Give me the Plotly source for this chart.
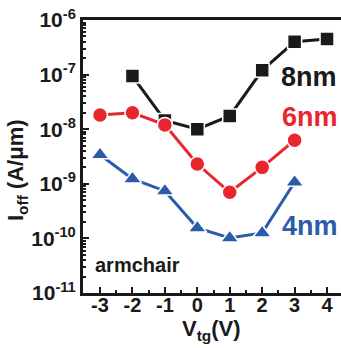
import plotly.graph_objects as go

vtg = [-3, -2, -1, 0, 1, 2, 3, 4]
x8 = [-2, -1, 0, 1, 2, 3, 4]
i8 = [9.4e-8, 1.45e-8, 1.0e-8, 1.75e-8, 1.2e-7, 4.0e-7, 4.5e-7]
x6 = [-3, -2, -1, 0, 1, 2, 3]
i6 = [1.82e-8, 2.0e-8, 1.2e-8, 2.3e-9, 7.0e-10, 2.0e-9, 6.3e-9]
x4 = [-3, -2, -1, 0, 1, 2, 3]
i4 = [3.4e-9, 1.23e-9, 7.4e-10, 1.55e-10, 1.02e-10, 1.26e-10, 1.07e-9]
ytickvals = [1e-11, 1e-10, 1e-9, 1e-8, 1e-7, 1e-6]
yticktext = ["10<sup>-11</sup>", "10<sup>-10</sup>", "10<sup>-9</sup>",
             "10<sup>-8</sup>", "10<sup>-7</sup>", "10<sup>-6</sup>"]

BLACK = "#1a1a1a"
RED = "#e8262d"
BLUE = "#2a5caa"
FONT = "Liberation Sans"

W, H = 341, 348
L, R, T, B = 83, 341, 20, 293

def px(x):
    return (x - L) / (R - L)

def py(y):
    return (B - y) / (B - T)

fig = go.Figure()
fig.add_trace(go.Scatter(x=x8, y=i8, mode="lines+markers",
                         line=dict(color=BLACK, width=3),
                         marker=dict(symbol="square", size=14, color=BLACK,
                                     line=dict(color="white", width=1.5))))
fig.add_trace(go.Scatter(x=x6, y=i6, mode="lines+markers",
                         line=dict(color=RED, width=3),
                         marker=dict(symbol="circle", size=15, color=RED,
                                     line=dict(color="white", width=1.5))))
fig.add_trace(go.Scatter(x=x4, y=i4, mode="lines+markers",
                         line=dict(color=BLUE, width=3),
                         marker=dict(symbol="triangle-up", size=16, color=BLUE,
                                     line=dict(color="white", width=1.5))))

ann = []
ann.append(dict(text="<b>8nm</b>", x=px(279), y=py(77), xanchor="left", font=dict(size=27, color=BLACK)))
ann.append(dict(text="<b>6nm</b>", x=px(280), y=py(117), xanchor="left", font=dict(size=27, color=RED)))
ann.append(dict(text="<b>4nm</b>", x=px(280), y=py(226), xanchor="left", font=dict(size=27, color=BLUE)))
ann.append(dict(text="<b>armchair</b>", x=px(93), y=py(265), xanchor="left", font=dict(size=20, color=BLACK)))
ann.append(dict(text="<b>I<sub>off</sub> (A/μm)</b>", x=px(17), y=py(170), xanchor="center",
                textangle=-90, font=dict(size=22, color=BLACK)))
ann.append(dict(text="<b>V<sub>tg</sub>(V)</b>", x=px(211), y=py(330), xanchor="center",
                font=dict(size=22, color=BLACK)))
for a in ann:
    a.update(xref="paper", yref="paper", showarrow=False, yanchor="middle")
    a["font"]["family"] = FONT

fig.update_layout(
    width=W, height=H,
    margin=dict(l=L, r=W - R, t=T, b=H - B, pad=0, autoexpand=False),
    paper_bgcolor="white", plot_bgcolor="white",
    showlegend=False,
    font=dict(family=FONT, color=BLACK),
    annotations=ann,
    xaxis=dict(range=[-3.524, 4.43], tickvals=vtg, ticktext=[str(v) for v in vtg],
               ticks="inside", ticklen=6, tickwidth=2, tickcolor=BLACK,
               showline=True, linewidth=3, linecolor=BLACK, mirror=True,
               showgrid=False, zeroline=False, ticklabelstandoff=-8, automargin=False,
               tickfont=dict(size=20, family=FONT, color=BLACK, weight="bold"),
               minor=dict(dtick=0.5, tick0=0, ticks="inside", ticklen=3, tickwidth=2,
                          tickcolor=BLACK, showgrid=False)),
    yaxis=dict(type="log", range=[-11, -6], tickvals=ytickvals, ticktext=yticktext,
               ticks="inside", ticklen=6, tickwidth=2, tickcolor=BLACK,
               showline=True, linewidth=3, linecolor=BLACK, mirror=False,
               showgrid=False, zeroline=False, automargin=False,
               tickfont=dict(size=21, family=FONT, color=BLACK, weight="bold"),
               minor=dict(dtick="D1", ticks="inside", ticklen=3, tickwidth=2,
                          tickcolor=BLACK, showgrid=False)),
)
fig.write_html("out.html", config={"displayModeBar": False},
               post_script="document.body.style.margin='0';document.body.style.overflow='hidden';")
